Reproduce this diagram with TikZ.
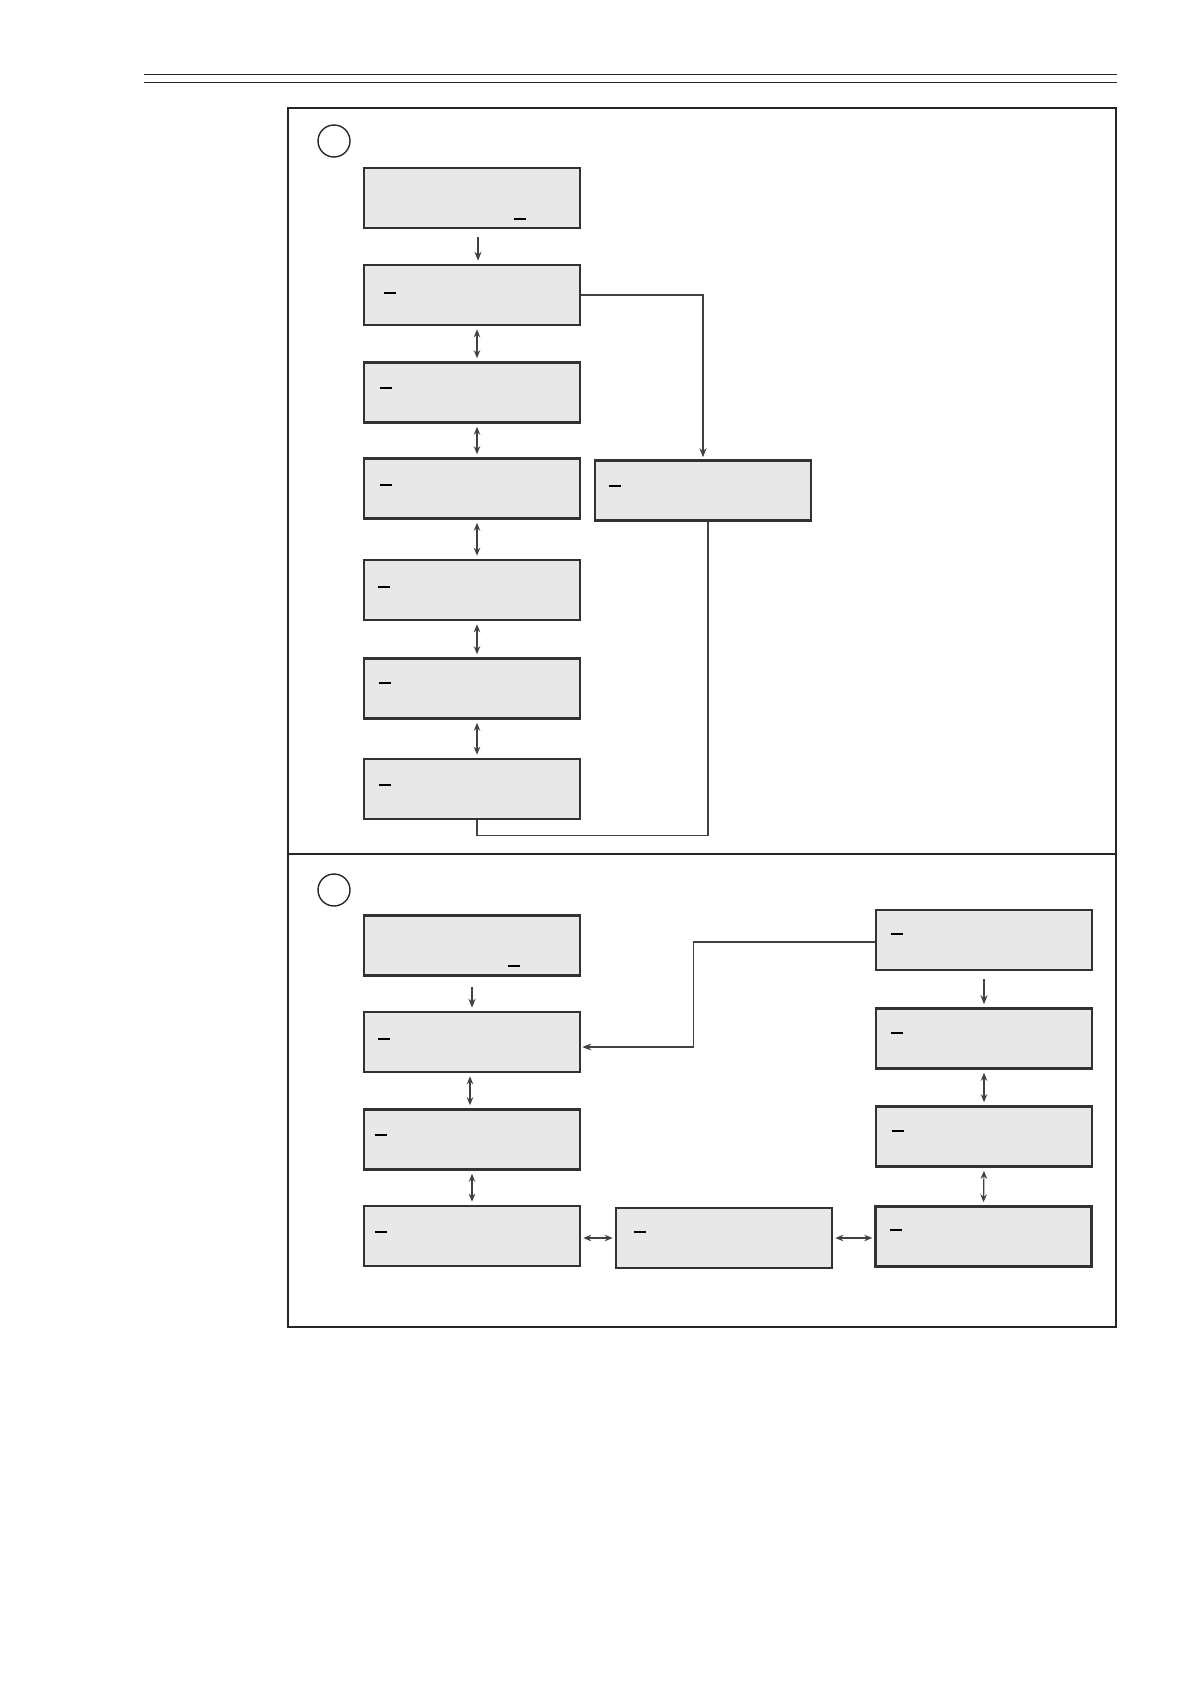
\documentclass[tikz,border=0pt]{standalone}
\usepackage{tikz}
\usetikzlibrary{arrows.meta,positioning,calc}

\definecolor{screenfill}{RGB}{232,232,232}
\definecolor{screenline}{RGB}{50,50,50}
\definecolor{linkline}{RGB}{65,65,65}

\tikzset{
  screen/.style={draw=screenline, line width=2.6pt, fill=screenfill,
    minimum width=216pt, minimum height=60pt, inner sep=0pt},
  marker/.style={circle, draw=black!85, line width=1.4pt, minimum size=32pt, inner sep=0pt},
  cursor/.style={line width=2pt, black},
  link/.style={draw=linkline, line width=1.2pt},
  onearrow/.style={link, -{Stealth[length=9pt,width=7pt]}},
  twoarrow/.style={link, {Stealth[length=8pt,width=6.5pt]}-{Stealth[length=8pt,width=6.5pt]},
    shorten <=3pt, shorten >=3pt},
}

\begin{document}
\begin{tikzpicture}[x=1pt, y=-1pt]
  \useasboundingbox (0,0) rectangle (1191,1684);

  % Header rules
  \draw[line width=1.3pt, black!85] (144,74.3) -- (1117,74.3);
  \draw[line width=1.3pt, black!85] (144,82.3) -- (1117,82.3);

  % Frame with two panels
  \draw[line width=1.3pt, black!85] (288,108) rectangle (1116,1327);
  \draw[line width=1.3pt, black!85] (288,854) -- (1116,854);

  % Panel markers
  \node[marker] (m1) at (334,141) {};
  \node[marker] (m2) at (334,890) {};

  % Upper panel: menu column
  \foreach \n/\y in {1/198, 2/295, 3/392.5, 4/488.5, 5/590, 6/688.5, 7/789} {
    \node[screen] (a\n) at (472,\y) {};
  }
  \node[screen] (s1) at (703,490.5) {};

  % Upper panel: cursors
  \foreach \n/\dx/\dy in {a1/151/52, a2/21/29, a3/17/27, a4/17/28, a5/15/28, a6/16/26, a7/16/27, s1/15/27} {
    \draw[cursor] ($(\n.north west)+(\dx,\dy)$) -- ++(12,0);
  }

  % Upper panel: arrows
  \draw[onearrow, shorten <=8pt, shorten >=3pt] ([xshift=6pt]a1.south) -- ([xshift=6pt]a2.north);
  \foreach \i/\j in {2/3, 3/4, 4/5, 5/6, 6/7} {
    \draw[twoarrow] ([xshift=5pt]a\i.south) -- ([xshift=5pt]a\j.north);
  }
  \draw[onearrow, shorten >=2pt] (a2.east) -| (s1.north);
  \draw[link] ([xshift=5pt]a7.south) -- ++(0,15) -| ([xshift=5pt]s1.south);

  % Lower panel: left column, bottom row, right column
  \foreach \n/\y in {1/945.5, 2/1042, 3/1139.5, 4/1236} {
    \node[screen] (c\n) at (472,\y) {};
  }
  \node[screen] (c5) at (724,1238) {};
  \node[screen] (c6) at (983.5,1236.5) {};
  \foreach \n/\y in {1/940, 2/1038.5, 3/1136.5} {
    \node[screen] (r\n) at (984,\y) {};
  }

  % Lower panel: cursors
  \foreach \n/\dx/\dy in {c1/145/52, c2/15/28, c3/12/27, c4/12/27, c5/19/25, c6/16/25, r1/16/25, r2/16/26, r3/17/26} {
    \draw[cursor] ($(\n.north west)+(\dx,\dy)$) -- ++(12,0);
  }

  % Lower panel: arrows
  \draw[onearrow, shorten <=10pt, shorten >=3pt] (c1.south) -- (c2.north);
  \draw[twoarrow] ([xshift=-2pt]c2.south) -- ([xshift=-2pt]c3.north);
  \draw[twoarrow] (c3.south) -- (c4.north);
  \draw[twoarrow, shorten <=2pt, shorten >=2pt] ([yshift=-2pt]c4.east) -- ([yshift=-2pt]c4.east -| c5.west);
  \draw[twoarrow, shorten <=2pt, shorten >=2pt] (c5.east) -- (c5.east -| c6.west);
  \draw[onearrow, shorten <=8pt, shorten >=3pt] (r1.south) -- (r2.north);
  \draw[twoarrow] (r2.south) -- (r3.north);
  \draw[twoarrow] (r3.south) -- (c6.north);
  \draw[onearrow, shorten >=1pt] ([yshift=-2pt]r1.west) -- ++(-181,0) |- ([yshift=-5pt]c2.east);
\end{tikzpicture}
\end{document}
